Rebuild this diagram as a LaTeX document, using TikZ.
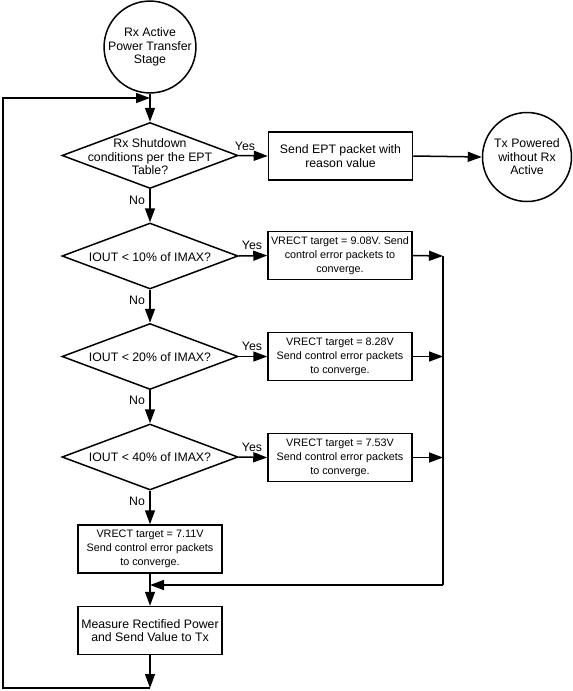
\documentclass[tikz,border=0pt]{standalone}
\usepackage{fontspec}
\setmainfont{Liberation Sans}
\usetikzlibrary{shapes.geometric,arrows.meta}
\begin{document}
\begin{tikzpicture}[x=1pt,y=-1pt,
  line width=1.5pt,
  every node/.style={font=\fontsize{12.3}{13.5}\selectfont, inner sep=0pt},
  circ/.style={draw, circle, minimum size=89pt, align=center},
  box/.style={draw, rectangle, minimum width=144pt, minimum height=48pt, align=center},
  sbox/.style={box, font=\fontsize{10.8}{14}\selectfont},
  dec/.style={draw, diamond, minimum width=176pt, minimum height=66pt},
  dtext/.style={align=center},
  lab/.style={font=\fontsize{12.3}{13.5}\selectfont},
  arr/.style={-{Triangle[length=14pt,width=10pt]}},
]
\useasboundingbox (0,0) rectangle (573,691);

\node[circ] (start) at (150,47) {Rx Active\\Power Transfer\\Stage};

\node[dec] (d1) at (150,155.5) {};
\node[dtext] (t1) at (150,157) {Rx Shutdown\\conditions per the EPT\\Table?};
\node[box] (b1) at (340.5,156) {Send EPT packet with\\reason value};
\node[circ] (tx) at (527,157) {Tx Powered\\without Rx\\Active};

\node[dec] (d2) at (150,256) {};
\node[dtext] (t2) at (150,257) {IOUT < 10\% of IMAX?};
\node[sbox] (b2) at (340,255.5) {VRECT target = 9.08V. Send\\control error packets to\\converge.};

\node[dec] (d3) at (150,356.5) {};
\node[dtext] (t3) at (150,357) {IOUT < 20\% of IMAX?};
\node[sbox] (b3) at (340,356.5) {VRECT target = 8.28V\\Send control error packets\\to converge.};

\node[dec] (d4) at (150,457) {};
\node[dtext] (t4) at (150,457) {IOUT < 40\% of IMAX?};
\node[sbox] (b4) at (340,457.5) {VRECT target = 7.53V\\Send control error packets\\to converge.};

\node[sbox] (b5) at (150,549) {VRECT target = 7.11V\\Send control error packets\\to converge.};
\node[box] (b6) at (150,630.5) {Measure Rectified Power\\and Send Value to Tx};

\node[lab] (y1) at (245,146) {Yes};
\node[lab] (y2) at (252,245) {Yes};
\node[lab] (y3) at (252,346) {Yes};
\node[lab] (y4) at (252,447) {Yes};
\node[lab] (n1) at (137,200) {No};
\node[lab] (n2) at (137,300) {No};
\node[lab] (n3) at (137,400) {No};
\node[lab] (n4) at (137,501) {No};

\coordinate (loopin) at (150,98);
\coordinate (j2) at (443,256);
\coordinate (j3) at (443,356.5);
\coordinate (j4) at (443,457.5);
\coordinate (jm) at (443,585);
\coordinate (merge) at (150,585);
\coordinate (bot) at (150,688);
\coordinate (lft) at (3,688);

% main flow
\draw[arr] (start.south) -- (d1.north);
\draw[arr] (d1.east) -- (b1.west);
\draw[arr] (b1.east) -- (tx.west);
\draw[arr] (d1.south) -- (d2.north);

\draw[arr] (d2.east) -- (b2.west);
\draw[arr] (d2.south) -- (d3.north);
\draw[arr] (d3.east) -- (b3.west);
\draw[arr] (d3.south) -- (d4.north);
\draw[arr] (d4.east) -- (b4.west);
\draw[arr] (d4.south) -- (b5.north);

% right collector
\draw[arr] (b2.east) -- (j2);
\draw[arr] (b3.east) -- (j3);
\draw[arr] (b4.east) -- (j4);
\draw (j2) -- (jm);
\draw[arr] (jm) -- (merge);

\draw[arr] (b5.south) -- (b6.north);
\draw[arr] (b6.south) -- (bot);
\draw[arr] (bot) -- (lft) |- (loopin);
\end{tikzpicture}
\end{document}
